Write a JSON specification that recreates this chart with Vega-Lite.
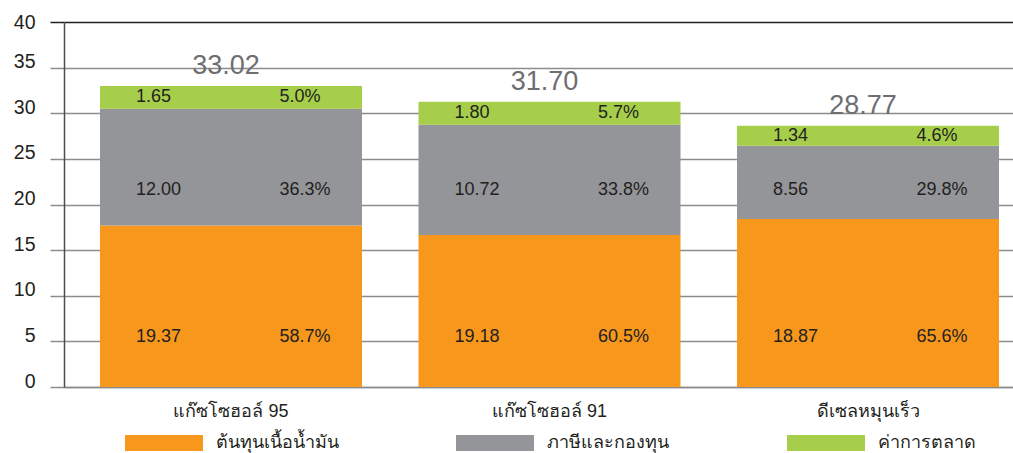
{
  "$schema": "https://vega.github.io/schema/vega-lite/v6.json",
  "width": 949,
  "height": 365,
  "autosize": {"type": "none"},
  "padding": {"left": 64, "top": 22, "right": 0, "bottom": 66},
  "background": "white",
  "config": {"view": {"stroke": null}, "font": "Liberation Sans"},
  "data": {
    "values": [
      {"cat": "แก๊ซโซฮอล์ 95", "comp": "ต้นทุนเนื้อน้ำมัน", "ord": 1, "value": 17.69, "label": "19.37", "pct": "58.7%", "total": "33.02"},
      {"cat": "แก๊ซโซฮอล์ 95", "comp": "ภาษีและกองทุน", "ord": 2, "value": 12.79, "label": "12.00", "pct": "36.3%", "total": "33.02"},
      {"cat": "แก๊ซโซฮอล์ 95", "comp": "ค่าการตลาด", "ord": 3, "value": 2.52, "label": "1.65", "pct": "5.0%", "total": "33.02"},
      {"cat": "แก๊ซโซฮอล์ 91", "comp": "ต้นทุนเนื้อน้ำมัน", "ord": 1, "value": 16.67, "label": "19.18", "pct": "60.5%", "total": "31.70"},
      {"cat": "แก๊ซโซฮอล์ 91", "comp": "ภาษีและกองทุน", "ord": 2, "value": 12.06, "label": "10.72", "pct": "33.8%", "total": "31.70"},
      {"cat": "แก๊ซโซฮอล์ 91", "comp": "ค่าการตลาด", "ord": 3, "value": 2.52, "label": "1.80", "pct": "5.7%", "total": "31.70"},
      {"cat": "ดีเซลหมุนเร็ว", "comp": "ต้นทุนเนื้อน้ำมัน", "ord": 1, "value": 18.42, "label": "18.87", "pct": "65.6%", "total": "28.77"},
      {"cat": "ดีเซลหมุนเร็ว", "comp": "ภาษีและกองทุน", "ord": 2, "value": 8.01, "label": "8.56", "pct": "29.8%", "total": "28.77"},
      {"cat": "ดีเซลหมุนเร็ว", "comp": "ค่าการตลาด", "ord": 3, "value": 2.19, "label": "1.34", "pct": "4.6%", "total": "28.77"}
    ]
  },
  "encoding": {
    "x": {
      "field": "cat",
      "type": "nominal",
      "sort": null,
      "scale": {"paddingInner": 0.1774, "paddingOuter": 0.0785, "align": 0.72},
      "axis": {
        "title": null,
        "labelAngle": 0,
        "labelFontSize": 18,
        "labelColor": "#231f20",
        "labelPadding": 15,
        "labelLimit": 0,
        "ticks": false,
        "domainColor": "#8c8c8c",
        "domainWidth": 1.5
      }
    }
  },
  "layer": [
    {
      "mark": {"type": "bar"},
      "encoding": {
        "y": {
          "field": "value",
          "type": "quantitative",
          "stack": "zero",
          "scale": {"domain": [0, 40], "nice": false},
          "axis": {
            "title": null,
            "values": [0, 5, 10, 15, 20, 25, 30, 35, 40],
            "domainColor": "#4d4d4d",
            "domainWidth": 1.5,
            "tickSize": 14,
            "tickWidth": 1.5,
            "tickColor": {"condition": {"test": "datum.value === 40", "value": "#231f20"}, "value": "#8c8c8c"},
            "grid": true,
            "gridWidth": 1.5,
            "gridColor": {"condition": {"test": "datum.value === 40", "value": "#231f20"}, "value": "#8c8c8c"},
            "labelFontSize": 19.5,
            "labelColor": "#231f20",
            "labelPadding": 15,
            "labelBaseline": {"condition": {"test": "datum.value === 40", "value": "middle"}, "value": "alphabetic"}
          }
        },
        "color": {
          "field": "comp",
          "type": "nominal",
          "scale": {
            "domain": ["ต้นทุนเนื้อน้ำมัน", "ภาษีและกองทุน", "ค่าการตลาด"],
            "range": ["#F7981D", "#939598", "#A6CE4A"]
          },
          "legend": {
            "title": null,
            "orient": "none",
            "legendX": 61,
            "legendY": 382,
            "direction": "horizontal",
            "columns": 3,
            "gridAlign": "all",
            "columnPadding": 117,
            "padding": 0,
            "symbolType": "M-1,-0.205H1V0.205H-1Z",
            "symbolSize": 6084,
            "symbolStrokeWidth": 0,
            "symbolOpacity": 1,
            "labelFontSize": 18,
            "labelColor": "#231f20",
            "labelOffset": 13,
            "labelLimit": 400
          }
        },
        "order": {"field": "ord", "type": "quantitative"}
      }
    },
    {
      "transform": [{"filter": "datum.ord === 1"}],
      "mark": {"type": "text", "align": "left", "baseline": "middle", "dx": -95, "fontSize": 18, "color": "#231f20"},
      "encoding": {"y": {"datum": 5.48, "type": "quantitative"}, "text": {"field": "label"}}
    },
    {
      "transform": [{"filter": "datum.ord === 1"}],
      "mark": {"type": "text", "align": "left", "baseline": "middle", "dx": 48.5, "fontSize": 18, "color": "#231f20"},
      "encoding": {"y": {"datum": 5.48, "type": "quantitative"}, "text": {"field": "pct"}}
    },
    {
      "transform": [{"filter": "datum.ord === 2"}],
      "mark": {"type": "text", "align": "left", "baseline": "middle", "dx": -95, "fontSize": 18, "color": "#231f20"},
      "encoding": {"y": {"datum": 21.55, "type": "quantitative"}, "text": {"field": "label"}}
    },
    {
      "transform": [{"filter": "datum.ord === 2"}],
      "mark": {"type": "text", "align": "left", "baseline": "middle", "dx": 48.5, "fontSize": 18, "color": "#231f20"},
      "encoding": {"y": {"datum": 21.55, "type": "quantitative"}, "text": {"field": "pct"}}
    },
    {
      "mark": {"type": "text", "align": "left", "baseline": "middle", "dx": -95, "fontSize": 18, "color": "#231f20"},
      "encoding": {
        "y": {"field": "value", "type": "quantitative", "stack": "zero", "bandPosition": 0.5},
        "detail": {"field": "comp"},
        "order": {"field": "ord", "type": "quantitative"},
        "text": {"condition": {"test": "datum.ord === 3", "field": "label"}, "value": ""}
      }
    },
    {
      "mark": {"type": "text", "align": "left", "baseline": "middle", "dx": 48.5, "fontSize": 18, "color": "#231f20"},
      "encoding": {
        "y": {"field": "value", "type": "quantitative", "stack": "zero", "bandPosition": 0.5},
        "detail": {"field": "comp"},
        "order": {"field": "ord", "type": "quantitative"},
        "text": {"condition": {"test": "datum.ord === 3", "field": "pct"}, "value": ""}
      }
    },
    {
      "mark": {"type": "text", "align": "center", "baseline": "middle", "dx": -5, "dy": -20, "fontSize": 27, "color": "#6d6e71"},
      "encoding": {
        "y": {"aggregate": "sum", "field": "value", "type": "quantitative"},
        "text": {"field": "total", "type": "nominal"}
      }
    }
  ]
}
